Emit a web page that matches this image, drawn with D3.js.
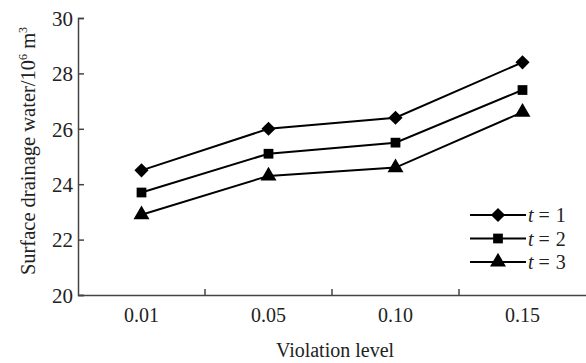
<!DOCTYPE html>
<html>
<head>
<meta charset="utf-8">
<script src="https://cdn.jsdelivr.net/npm/d3@7"></script>
<style>
  body { margin: 0; background: #fff; }
  text { font-family: "Liberation Serif", "Times New Roman", serif; fill: #222; }
</style>
</head>
<body>
<svg id="chart" width="586" height="363"></svg>
<script>
var levels = ["0.01", "0.05", "0.10", "0.15"];
var t1 = [24.5, 26.0, 26.4, 28.4];
var t2 = [23.7, 25.1, 25.5, 27.4];
var t3 = [22.9, 24.3, 24.6, 26.6];
var yTicks = [20, 22, 24, 26, 28, 30];

var series = [
    { name: "1", values: t1, shape: d3.symbolSquare, size: 100, rotate: 45 },
    { name: "2", values: t2, shape: d3.symbolSquare, size: 95, rotate: 0 },
    { name: "3", values: t3, shape: d3.symbolTriangle, size: 110, rotate: 0 }
];

var svg = d3.select("#chart");
var plotLeft = 78, plotRight = 586, plotTop = 18, plotBottom = 295;

var x = d3.scaleBand().domain(levels).range([plotLeft, plotRight]);
var y = d3.scaleLinear().domain([20, 30]).range([plotBottom, plotTop]);

// y axis
var yAxis = svg.append("g")
    .attr("transform", "translate(" + plotLeft + ",0)")
    .call(d3.axisRight(y).tickValues(yTicks).tickSize(6).tickFormat(d3.format("d")));
yAxis.select(".domain").attr("stroke", "#444").attr("stroke-width", 1.5);
yAxis.selectAll(".tick line").attr("stroke", "#444").attr("stroke-width", 1.5);
yAxis.selectAll(".tick text")
    .attr("x", -5)
    .attr("dy", "0.35em")
    .attr("text-anchor", "end")
    .attr("font-size", 21)
    .attr("fill", "#222");

// x axis
var xAxis = svg.append("g")
    .attr("transform", "translate(0," + plotBottom + ")")
    .call(d3.axisBottom(x).tickSize(0).tickPadding(13));
xAxis.select(".domain").attr("stroke", "#444").attr("stroke-width", 1.5);
xAxis.selectAll(".tick text").attr("font-size", 20).attr("fill", "#222");

// boundary ticks between categories
svg.append("g")
    .selectAll("line")
    .data(levels.slice(1))
    .enter()
    .append("line")
    .attr("x1", function (d) { return x(d); })
    .attr("x2", function (d) { return x(d); })
    .attr("y1", plotBottom)
    .attr("y2", plotBottom - 6)
    .attr("stroke", "#444")
    .attr("stroke-width", 1.5);

// axis titles
svg.append("text")
    .attr("x", 335)
    .attr("y", 357)
    .attr("text-anchor", "middle")
    .attr("font-size", 20)
    .text("Violation level");

var yt = svg.append("text")
    .attr("transform", "translate(35,151) rotate(-90)")
    .attr("text-anchor", "middle")
    .attr("font-size", 20.5)
    .text("Surface drainage water/10");
yt.append("tspan").attr("font-size", 12).attr("dy", -8).text("6");
yt.append("tspan").attr("dy", 8).text(" m");
yt.append("tspan").attr("font-size", 12).attr("dy", -8).text("3");

var line = d3.line()
    .x(function (d, i) { return x(levels[i]) + x.bandwidth() / 2; })
    .y(function (d) { return y(d); });

series.forEach(function (s) {
    svg.append("path")
        .attr("d", line(s.values))
        .attr("fill", "none")
        .attr("stroke", "#000")
        .attr("stroke-width", 2);

    svg.append("g")
        .selectAll("path")
        .data(s.values)
        .enter()
        .append("path")
        .attr("d", d3.symbol().type(s.shape).size(s.size))
        .attr("transform", function (d, i) {
            return "translate(" + (x(levels[i]) + x.bandwidth() / 2) + "," + y(d) + ") rotate(" + s.rotate + ")";
        })
        .attr("fill", "#000");
});

// legend
var legend = svg.append("g")
    .selectAll("g")
    .data(series)
    .enter()
    .append("g")
    .attr("transform", function (d, i) { return "translate(470," + (215 + i * 23.5) + ")"; });

legend.append("line")
    .attr("x1", 0).attr("x2", 56)
    .attr("stroke", "#000").attr("stroke-width", 2);
legend.append("path")
    .attr("d", function (d) { return d3.symbol().type(d.shape).size(d.size)(); })
    .attr("transform", function (d) { return "translate(28,0) rotate(" + d.rotate + ")"; })
    .attr("fill", "#000");
var lt = legend.append("text")
    .attr("x", 58)
    .attr("y", 7)
    .attr("font-size", 20);
lt.append("tspan").attr("font-style", "italic").text("t");
lt.append("tspan").attr("dx", 5).text("=");
lt.append("tspan").attr("dx", 6).text(function (d) { return d.name; });
</script>
</body>
</html>
